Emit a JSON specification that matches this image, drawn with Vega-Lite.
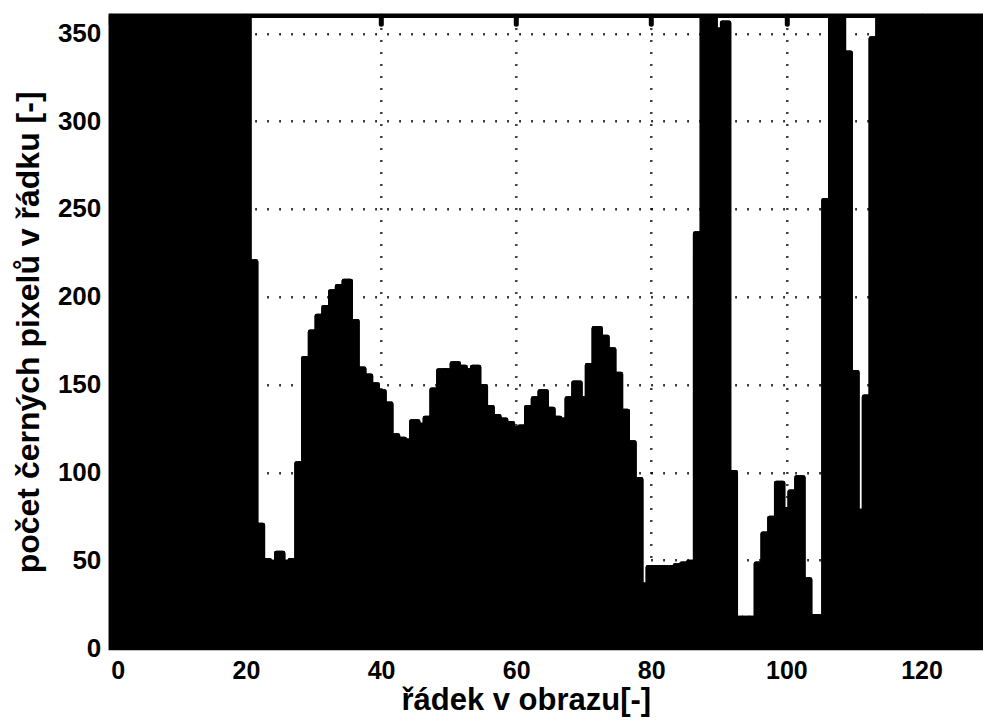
{
  "$schema": "https://vega.github.io/schema/vega-lite/v6.json",
  "width": 872.2,
  "height": 632.2,
  "autosize": {"type": "none"},
  "padding": {"left": 110.8, "top": 15.8, "right": 0, "bottom": 74},
  "background": "white",
  "config": {
    "view": {"stroke": "black", "strokeWidth": 4.5},
    "font": "Liberation Sans",
    "axis": {
      "labelFont": "Liberation Sans",
      "labelFontWeight": "bold",
      "labelColor": "black",
      "titleFont": "Liberation Sans",
      "titleFontWeight": "bold",
      "titleColor": "black",
      "gridColor": "black",
      "gridDash": [1.5, 10.5],
      "gridWidth": 2.5,
      "gridOpacity": 1,
      "domainColor": "black",
      "domainWidth": 3
    }
  },
  "data": {
    "values": [
      {"row": 1, "count": 380}, {"row": 2, "count": 380}, {"row": 3, "count": 380}, {"row": 4, "count": 380},
      {"row": 5, "count": 380}, {"row": 6, "count": 380}, {"row": 7, "count": 380}, {"row": 8, "count": 380},
      {"row": 9, "count": 380}, {"row": 10, "count": 380}, {"row": 11, "count": 380}, {"row": 12, "count": 380},
      {"row": 13, "count": 380}, {"row": 14, "count": 380}, {"row": 15, "count": 380}, {"row": 16, "count": 380},
      {"row": 17, "count": 380}, {"row": 18, "count": 380}, {"row": 19, "count": 380}, {"row": 20, "count": 380},
      {"row": 21, "count": 220}, {"row": 22, "count": 70}, {"row": 23, "count": 50}, {"row": 24, "count": 49},
      {"row": 25, "count": 54}, {"row": 26, "count": 49}, {"row": 27, "count": 50}, {"row": 28, "count": 105},
      {"row": 29, "count": 165}, {"row": 30, "count": 180}, {"row": 31, "count": 189}, {"row": 32, "count": 194},
      {"row": 33, "count": 203}, {"row": 34, "count": 206}, {"row": 35, "count": 209}, {"row": 36, "count": 186},
      {"row": 37, "count": 159}, {"row": 38, "count": 155}, {"row": 39, "count": 150}, {"row": 40, "count": 146},
      {"row": 41, "count": 139}, {"row": 42, "count": 121}, {"row": 43, "count": 119}, {"row": 44, "count": 118},
      {"row": 45, "count": 129}, {"row": 46, "count": 127}, {"row": 47, "count": 131}, {"row": 48, "count": 147},
      {"row": 49, "count": 158}, {"row": 50, "count": 158}, {"row": 51, "count": 162}, {"row": 52, "count": 160},
      {"row": 53, "count": 158}, {"row": 54, "count": 160}, {"row": 55, "count": 149}, {"row": 56, "count": 137},
      {"row": 57, "count": 132}, {"row": 58, "count": 130}, {"row": 59, "count": 128}, {"row": 60, "count": 125},
      {"row": 61, "count": 126}, {"row": 62, "count": 137}, {"row": 63, "count": 142}, {"row": 64, "count": 146},
      {"row": 65, "count": 136}, {"row": 66, "count": 131}, {"row": 67, "count": 130}, {"row": 68, "count": 142},
      {"row": 69, "count": 151}, {"row": 70, "count": 142}, {"row": 71, "count": 161}, {"row": 72, "count": 182},
      {"row": 73, "count": 177}, {"row": 74, "count": 170}, {"row": 75, "count": 156}, {"row": 76, "count": 135},
      {"row": 77, "count": 117}, {"row": 78, "count": 96}, {"row": 79, "count": 36}, {"row": 80, "count": 46},
      {"row": 81, "count": 46}, {"row": 82, "count": 46}, {"row": 83, "count": 46}, {"row": 84, "count": 47},
      {"row": 85, "count": 48}, {"row": 86, "count": 49}, {"row": 87, "count": 236}, {"row": 88, "count": 365},
      {"row": 89, "count": 359}, {"row": 90, "count": 352}, {"row": 91, "count": 356}, {"row": 92, "count": 100},
      {"row": 93, "count": 17}, {"row": 94, "count": 17}, {"row": 95, "count": 17}, {"row": 96, "count": 48},
      {"row": 97, "count": 65}, {"row": 98, "count": 74}, {"row": 99, "count": 94}, {"row": 100, "count": 79},
      {"row": 101, "count": 89}, {"row": 102, "count": 97}, {"row": 103, "count": 39}, {"row": 104, "count": 18},
      {"row": 105, "count": 18}, {"row": 106, "count": 255}, {"row": 107, "count": 380}, {"row": 108, "count": 380},
      {"row": 109, "count": 339}, {"row": 110, "count": 157}, {"row": 111, "count": 78}, {"row": 112, "count": 143},
      {"row": 113, "count": 347}, {"row": 114, "count": 380}, {"row": 115, "count": 380}, {"row": 116, "count": 380},
      {"row": 117, "count": 380}, {"row": 118, "count": 380}, {"row": 119, "count": 380}, {"row": 120, "count": 380},
      {"row": 121, "count": 380}, {"row": 122, "count": 380}, {"row": 123, "count": 380}, {"row": 124, "count": 380},
      {"row": 125, "count": 380}, {"row": 126, "count": 380}, {"row": 127, "count": 380}, {"row": 128, "count": 380},
      {"row": 129, "count": 380}
    ]
  },
  "encoding": {
    "y": {
      "field": "count",
      "type": "quantitative",
      "scale": {"domain": [0, 360], "nice": false},
      "axis": {
        "values": [0, 50, 100, 150, 200, 250, 300, 350],
        "ticks": false,
        "domain": false,
        "labelFontSize": 26,
        "labelPadding": 10,
        "title": "počet černých pixelů v řádku [-]",
        "titleFontSize": 32,
        "titlePadding": 12
      }
    }
  },
  "layer": [
    {
      "mark": {"type": "bar", "color": "black", "stroke": "black", "strokeWidth": 4.6, "strokeJoin": "round", "width": 6.755, "clip": true},
      "encoding": {
        "x": {
          "field": "row",
          "type": "quantitative",
          "scale": {"domain": [0, 129.1], "nice": false, "zero": false, "padding": 0},
          "axis": {
            "values": [0, 20, 40, 60, 80, 100, 120],
            "ticks": false,
            "labelFontSize": 25,
            "labelPadding": 10,
            "title": "řádek v obrazu[-]",
            "titleFontSize": 31,
            "titlePadding": 2,
            "titleX": 415
          }
        }
      }
    },
    {
      "mark": {"type": "bar", "color": "black", "stroke": "black", "strokeWidth": 4.6, "strokeJoin": "round", "width": 6.755, "clip": true},
      "encoding": {
        "x": {
          "field": "row",
          "type": "quantitative",
          "scale": {"domain": [0, 129.1], "nice": false, "zero": false, "padding": 0},
          "axis": {
            "orient": "top",
            "values": [0, 20, 40, 60, 80, 100, 120],
            "labels": false,
            "grid": false,
            "domain": false,
            "ticks": true,
            "tickSize": -8,
            "tickWidth": 5,
            "tickColor": "black",
            "tickCap": "round",
            "title": null
          }
        }
      }
    }
  ],
  "resolve": {"axis": {"x": "independent"}}
}
